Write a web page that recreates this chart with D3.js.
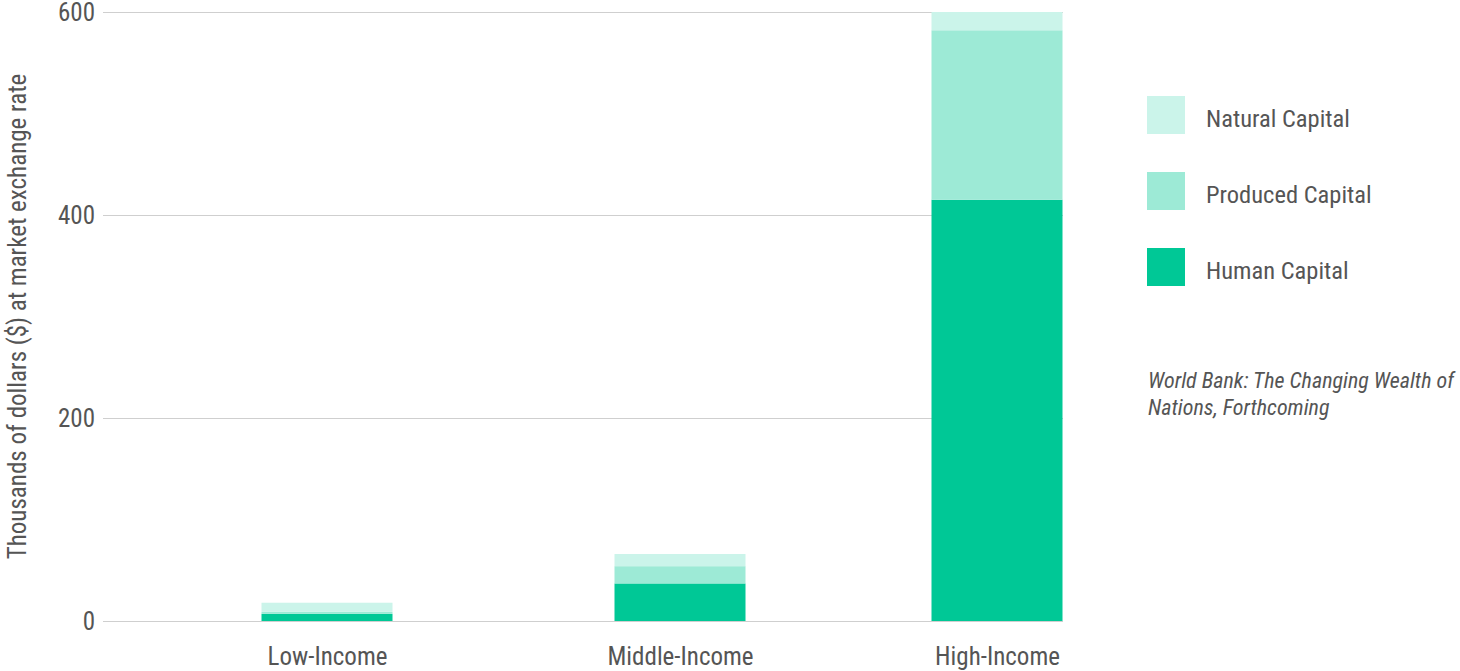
<!DOCTYPE html>
<html>
<head>
<meta charset="utf-8">
<script src="https://cdn.jsdelivr.net/npm/d3@7"></script>
<style>
  html, body { margin: 0; padding: 0; background: #fff; }
  svg { display: block; }
  text { font-family: "Liberation Sans Narrow", "Arial Narrow", "Roboto Condensed", sans-serif; fill: #555; }
</style>
</head>
<body>
<svg id="chart" width="1460" height="671"></svg>
<script>
const categories = ["Low-Income", "Middle-Income", "High-Income"];
const seriesNames = ["Human Capital", "Produced Capital", "Natural Capital"];
const humanCapital = [7, 37, 415];
const producedCapital = [2, 17, 167];
const naturalCapital = [9, 12, 18];
const yTicks = [0, 200, 400, 600];
const legendOrder = ["Natural Capital", "Produced Capital", "Human Capital"];
const yTitle = "Thousands of dollars ($) at market exchange rate";
const sourceLines = ["World Bank: The Changing Wealth of", "Nations, Forthcoming"];

const colors = {
  "Human Capital": "#00c896",
  "Produced Capital": "#9dead6",
  "Natural Capital": "#cbf4ea"
};

const svg = d3.select("#chart");
const plotLeft = 103, plotRight = 1063, plotTop = 12, plotBottom = 621;
const barWidth = 131;

const y = d3.scaleLinear().domain([0, 600]).range([plotBottom, plotTop]);
const x = d3.scaleOrdinal().domain(categories).range([327, 680, 997]);

// gridlines + tick labels
const yAxis = svg.append("g")
  .attr("transform", `translate(${plotLeft},0)`)
  .call(d3.axisLeft(y).tickValues(yTicks).tickSize(-(plotRight - plotLeft)).tickPadding(8).tickFormat(d3.format("d")));
yAxis.select(".domain").remove();
yAxis.selectAll(".tick line").attr("stroke", "#cfcfcf").attr("stroke-width", 1);
yAxis.selectAll(".tick text").attr("font-size", 25).style("fill", "#555");

// stacked data
const table = categories.map((c, i) => ({
  category: c,
  "Human Capital": humanCapital[i],
  "Produced Capital": producedCapital[i],
  "Natural Capital": naturalCapital[i]
}));
const stack = d3.stack().keys(seriesNames)(table);

svg.append("g").selectAll("g")
  .data(stack)
  .join("g")
  .attr("fill", d => colors[d.key])
  .selectAll("rect")
  .data(d => d)
  .join("rect")
  .attr("x", d => x(d.data.category) - barWidth / 2)
  .attr("width", barWidth)
  .attr("y", d => y(d[1]))
  .attr("height", d => y(d[0]) - y(d[1]));

// x axis labels
const xAxis = svg.append("g")
  .attr("transform", `translate(0,${plotBottom})`)
  .call(d3.axisBottom(x).tickSize(0).tickPadding(26));
xAxis.select(".domain").remove();
xAxis.selectAll(".tick text").attr("font-size", 25).style("fill", "#555");

// y title
svg.append("text")
  .attr("transform", `translate(26,${(plotTop + plotBottom) / 2}) rotate(-90)`)
  .attr("text-anchor", "middle")
  .attr("font-size", 25)
  .text(yTitle);

// legend
const legend = svg.append("g").attr("transform", "translate(1147,96)");
const li = legend.selectAll("g").data(legendOrder).join("g")
  .attr("transform", (d, i) => `translate(0,${i * 76})`);
li.append("rect").attr("width", 38).attr("height", 38).attr("fill", d => colors[d]);
li.append("text").attr("x", 59).attr("y", 22).attr("dy", "0.35em")
  .attr("font-size", 24.5).text(d => d);

// source
const src = svg.append("text")
  .attr("x", 1148).attr("y", 388)
  .attr("font-size", 22).attr("font-style", "italic");
src.selectAll("tspan").data(sourceLines).join("tspan")
  .attr("x", 1148).attr("dy", (d, i) => i === 0 ? 0 : 27).text(d => d);
</script>
</body>
</html>
